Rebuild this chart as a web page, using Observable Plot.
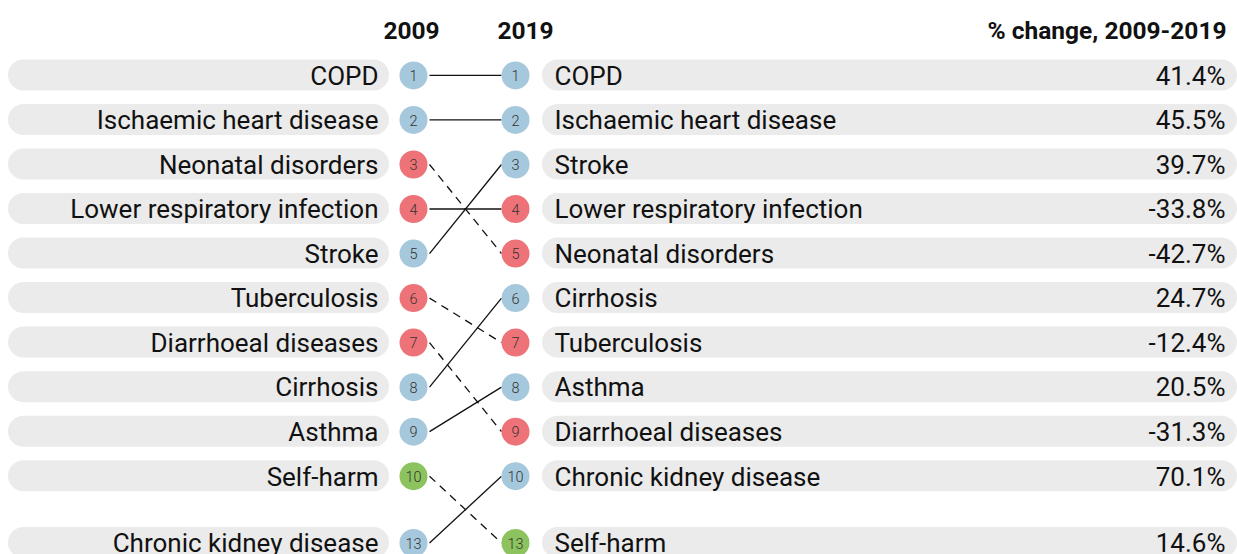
<!DOCTYPE html>
<html><head><meta charset="utf-8">
<script src="https://cdn.jsdelivr.net/npm/d3@7"></script>
<script src="https://cdn.jsdelivr.net/npm/@observablehq/plot@0.6"></script>
<style>
body{margin:0;background:#fff;}
#chart svg{display:block;font-family:Roboto,"Noto Sans",sans-serif;}
</style>
</head><body><div id="chart"></div>
<script>
// ---- Data ----
const causes = ["COPD","Ischaemic heart disease","Neonatal disorders","Lower respiratory infection","Stroke","Tuberculosis","Diarrhoeal diseases","Cirrhosis","Asthma","Self-harm","Chronic kidney disease"];
const rank2009 = [1,2,3,4,5,6,7,8,9,10,13];
const rank2019 = [1,2,5,4,3,7,9,6,8,13,10];
const pctChange = [41.4,45.5,-42.7,-33.8,39.7,-12.4,-31.3,24.7,20.5,14.6,70.1];
const causeGroup = ["ncd","ncd","cmnn","cmnn","ncd","cmnn","cmnn","ncd","ncd","inj","ncd"];
const groupNames = ["ncd","cmnn","inj"];
const groupColors = ["#a6c8dc","#ee7379","#8dc35e"];
const headers = ["2009","2019","% change, 2009-2019"];

// ---- Layout (pixel columns) ----
const W = 1237, H = 554;
const col = {pillL1: 8, pillL2: 389, labelL: 378, dot09: 413, lineL: 429, lineR: 501, dot19: 515, pillR1: 542, pillR2: 1237, labelR: 554, pct: 1225, head09: 411, head19: 525};
const slot = r => r <= 10 ? r : 10 + (r - 10) / 2;
const half = 0.348;

const rows = causes.map((c, i) => ({
  cause: c, r09: rank2009[i], r19: rank2019[i], pct: pctChange[i], group: causeGroup[i],
  s09: slot(rank2009[i]), s19: slot(rank2019[i])
}));
const labelFont = 26;
const headStyle = {y: 0, fontSize: 24.5, fontWeight: "bold", fill: "#111", dy: 0};

const chart = Plot.plot({
  width: W, height: H, margin: 0,
  x: {type: "linear", domain: [0, W], range: [0, W], axis: null},
  y: {type: "linear", domain: [0, 11.5], range: [30.4, 542.5], axis: null},
  color: {domain: groupNames, range: groupColors},
  marks: [
    Plot.rect(rows, {x1: col.pillL1, x2: col.pillL2, y1: d => d.s09 - half, y2: d => d.s09 + half, fill: "#ebebeb", rx: 15.5}),
    Plot.rect(rows, {x1: col.pillR1, x2: col.pillR2, y1: d => d.s19 - half, y2: d => d.s19 + half, fill: "#ebebeb", rx: 15.5}),
    Plot.link(rows.filter(d => d.r19 <= d.r09), {x1: col.lineL, x2: col.lineR, y1: "s09", y2: "s19", stroke: "#111", strokeWidth: 1.3}),
    Plot.link(rows.filter(d => d.r19 > d.r09), {x1: col.lineL, x2: col.lineR, y1: "s09", y2: "s19", stroke: "#111", strokeWidth: 1.3, strokeDasharray: "8,6"}),
    Plot.dot(rows, {x: col.dot09, y: "s09", r: 14, fill: "group", stroke: null}),
    Plot.dot(rows, {x: col.dot19, y: "s19", r: 14, fill: "group", stroke: null}),
    Plot.text(rows, {x: col.dot09, y: "s09", text: d => String(d.r09), fontSize: 14.5, fontWeight: 300, fill: "#333", dy: 1}),
    Plot.text(rows, {x: col.dot19, y: "s19", text: d => String(d.r19), fontSize: 14.5, fontWeight: 300, fill: "#333", dy: 1}),
    Plot.text(rows, {x: col.labelL, y: "s09", text: "cause", textAnchor: "end", fontSize: labelFont, fill: "#111", dy: 1}),
    Plot.text(rows, {x: col.labelR, y: "s19", text: "cause", textAnchor: "start", fontSize: labelFont, fill: "#111", dy: 1}),
    Plot.text(rows, {x: col.pct, y: "s19", text: d => d.pct.toFixed(1) + "%", textAnchor: "end", fontSize: labelFont, fill: "#111", dy: 1}),
    Plot.text([headers[0]], {...headStyle, x: col.head09, text: d => d, textAnchor: "middle"}),
    Plot.text([headers[1]], {...headStyle, x: col.head19, text: d => d, textAnchor: "middle"}),
    Plot.text([headers[2]], {...headStyle, x: col.pct + 1, text: d => d, textAnchor: "end"})
  ]
});
document.getElementById("chart").appendChild(chart);
</script>
</body></html>
